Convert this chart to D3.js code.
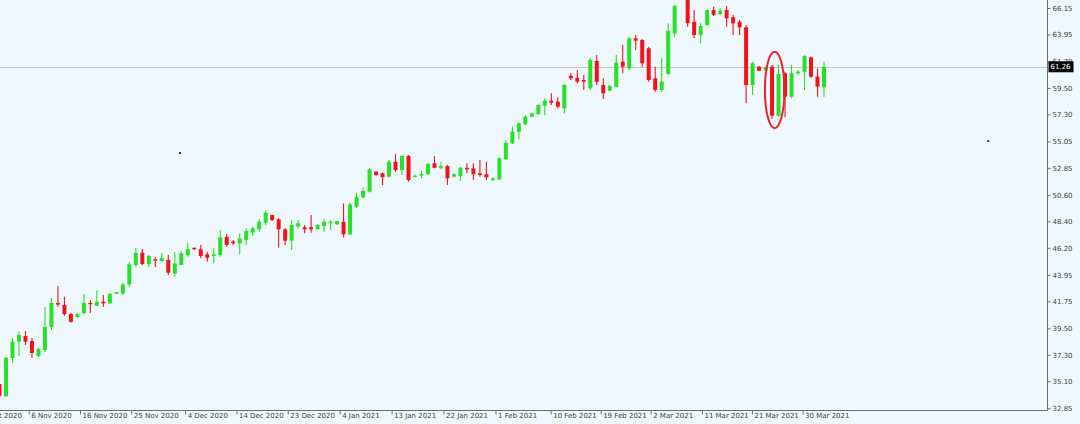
<!DOCTYPE html>
<html><head><meta charset="utf-8">
<script src="https://cdn.jsdelivr.net/npm/d3@7"></script>
<style>html,body{margin:0;padding:0;background:#f0f8ff;}svg{display:block;}</style>
</head><body>
<svg id="chart" width="1080" height="424"></svg>
<script>
// ---- data ----
const opens = [34.87,33.87,37.03,38.39,38.86,38.45,37.20,37.70,39.61,41.61,41.44,40.69,40.44,40.78,41.61,41.38,41.72,41.58,42.40,42.40,
43.15,44.77,45.79,44.85,45.24,45.10,45.19,44.06,44.77,45.60,46.21,46.08,45.66,45.52,45.60,47.12,46.71,46.57,46.85,47.46,
47.74,48.29,48.93,48.57,47.74,46.79,47.96,47.91,47.91,47.74,48.02,48.24,48.16,48.37,47.32,49.62,50.40,50.87,52.53,52.40,
52.12,53.36,52.67,53.84,52.15,52.20,52.32,53.23,52.86,53.01,52.12,52.17,52.86,52.81,52.40,52.32,51.84,51.90,53.57,54.89,
55.86,56.47,57.11,57.33,58.02,58.44,58.36,57.81,60.52,60.35,60.16,59.47,61.74,59.74,59.27,59.60,61.68,61.13,63.63,63.49,
62.80,60.30,59.33,60.66,64.04,67.10,67.07,65.01,63.90,64.74,65.98,65.65,65.98,65.38,65.01,64.54,59.74,61.27,60.94,61.27,
57.19,60.72,58.77,60.72,60.85,62.05,60.44,59.55];
const highs = [35.04,37.12,38.70,39.22,39.28,38.70,37.89,41.28,42.03,43.02,42.13,40.79,40.78,42.36,41.86,42.69,42.28,42.44,42.52,43.27,
45.04,46.21,46.10,45.60,45.44,45.77,45.60,45.85,45.93,46.63,46.21,46.43,45.88,46.16,47.68,47.35,46.85,47.41,47.82,47.96,
48.57,49.29,48.93,48.66,47.82,48.51,48.51,48.10,48.93,48.18,48.57,48.51,48.43,49.89,49.93,50.78,51.20,52.81,52.59,52.45,
53.51,53.98,53.92,53.92,52.32,52.59,53.26,53.84,53.36,53.09,52.40,52.95,53.23,53.23,53.51,53.36,52.05,53.71,55.17,56.28,
56.61,57.25,57.44,58.14,58.64,59.05,58.72,59.80,60.72,60.99,60.58,61.99,62.24,60.30,59.74,62.24,63.07,63.76,63.90,63.55,
62.93,61.27,61.97,64.88,66.40,67.98,67.20,65.98,64.88,66.04,66.26,66.12,66.32,65.57,65.15,64.74,61.68,61.33,61.27,61.41,
61.41,60.85,61.41,60.99,62.24,62.10,61.13,61.68];
const lows = [33.71,33.79,36.62,37.20,38.12,37.03,37.12,37.53,39.36,41.30,40.55,39.97,40.36,40.69,40.78,41.36,41.30,41.53,42.36,42.28,
42.97,44.63,44.77,44.60,44.60,45.02,43.94,43.81,44.77,45.46,46.02,45.33,45.04,44.91,45.46,46.29,46.43,45.68,46.43,47.18,
47.54,48.10,48.43,46.21,46.43,46.02,47.82,47.41,47.46,47.68,47.54,47.68,48.10,47.06,47.27,49.49,50.32,50.80,52.20,51.43,
52.07,52.53,52.26,51.70,52.07,51.98,52.26,52.81,52.73,51.43,52.07,51.76,52.40,51.84,52.12,51.84,51.76,51.84,53.51,54.84,
55.23,56.42,57.06,57.25,57.25,58.08,57.81,57.39,60.16,59.89,59.33,59.33,59.74,58.58,59.24,59.55,60.72,60.99,62.66,61.27,
60.02,59.19,59.19,60.58,63.76,66.90,64.59,63.63,63.21,64.65,65.49,65.57,64.59,63.90,63.90,58.22,58.91,60.91,60.90,56.92,
57.06,57.06,58.64,60.58,59.33,60.33,58.77,58.77];
const closes = [33.87,37.03,38.39,38.95,38.39,37.45,37.78,39.61,41.61,41.48,40.69,40.05,40.69,41.61,41.53,41.72,41.58,42.36,42.52,43.15,
44.83,45.79,44.85,45.52,45.13,45.35,44.13,44.91,45.74,46.08,46.08,45.52,45.38,45.66,47.07,46.43,46.57,46.99,47.60,47.82,
48.37,49.12,48.51,47.74,46.79,48.10,48.24,47.74,47.74,48.10,48.37,48.37,48.43,47.32,49.80,50.45,50.93,52.73,52.26,52.07,
53.36,52.67,53.84,51.84,52.20,52.32,53.17,52.86,53.01,51.98,52.32,52.86,52.73,52.32,52.26,52.07,51.98,53.65,54.94,55.86,
56.56,57.11,57.39,58.08,58.44,58.27,57.94,59.75,60.30,60.02,60.02,61.82,60.00,59.05,59.66,61.60,61.27,63.63,63.43,61.55,
60.16,59.33,60.02,64.26,66.32,67.30,64.88,63.90,64.65,65.98,65.57,65.93,65.29,64.88,64.54,59.74,61.55,60.93,61.19,57.19,
60.66,58.77,60.72,60.85,62.16,60.44,59.60,61.26];

const dateLabels = ["28 Oct 2020","6 Nov 2020","16 Nov 2020","25 Nov 2020","4 Dec 2020","14 Dec 2020","23 Dec 2020","4 Jan 2021",
"13 Jan 2021","22 Jan 2021","1 Feb 2021","10 Feb 2021","19 Feb 2021","2 Mar 2021","11 Mar 2021","21 Mar 2021","30 Mar 2021"];
const dateTickIndex = [-3.6,4.5,12.4,20.3,28.6,36.5,44.4,52.4,60.4,68.4,76.4,84.9,92.6,100.3,108.2,115.9,123.7];
const priceTicks = [66.15,63.95,61.70,59.50,57.30,55.05,52.85,50.60,48.40,46.20,43.95,41.75,39.50,37.30,35.10,32.85];
const currentPrice = 61.26;
const dots = [{i:27.8, v:54.09},{i:152.3, v:55.08}];
const highlight = {i0:117.9, i1:120.9, hi:62.52, lo:56.14};

// ---- drawing ----
const W = 1080, H = 424;
const plotRight = 1047.5, plotBottom = 410.5;
const svg = d3.select("#chart");
const candles = opens.map((o,i)=>({i, o, h:highs[i], l:lows[i], c:closes[i]}));

const x = d3.scaleLinear().domain([0, 127]).range([-0.5, 824]);
const y = d3.scaleLinear().domain([32.85, 66.15]).range([408.3, 8]);

svg.append("rect").attr("width",W).attr("height",H).attr("fill","#f0f8ff");

svg.append("defs").append("clipPath").attr("id","plot")
  .append("rect").attr("x",0).attr("y",0).attr("width",plotRight).attr("height",plotBottom);

const plot = svg.append("g").attr("clip-path","url(#plot)");

// current price line
plot.append("line")
  .attr("x1",0).attr("x2",plotRight)
  .attr("y1",Math.round(y(currentPrice))+0.5).attr("y2",Math.round(y(currentPrice))+0.5)
  .attr("stroke","#c4c8cc").attr("stroke-width",1);

const up = "#27e027", down = "#f0141a";
const cg = plot.selectAll("g.candle").data(candles).join("g").attr("class","candle");
cg.append("line")
  .attr("x1",d=>x(d.i)).attr("x2",d=>x(d.i))
  .attr("y1",d=>y(d.h)).attr("y2",d=>y(d.l))
  .attr("stroke",d=>d.c>=d.o?up:down).attr("stroke-width",1.1);
cg.append("rect")
  .attr("x",d=>x(d.i)-2).attr("width",4)
  .attr("y",d=>y(Math.max(d.o,d.c)))
  .attr("height",d=>Math.max(1.2, Math.abs(y(d.o)-y(d.c))))
  .attr("fill",d=>d.c>=d.o?up:down);

// highlight ellipse
plot.append("ellipse")
  .attr("cx",(x(highlight.i0)+x(highlight.i1))/2)
  .attr("cy",(y(highlight.hi)+y(highlight.lo))/2)
  .attr("rx",(x(highlight.i1)-x(highlight.i0))/2)
  .attr("ry",(y(highlight.lo)-y(highlight.hi))/2)
  .attr("fill","none").attr("stroke","#e8232a").attr("stroke-width",2);

// stray dots
plot.selectAll("rect.dot").data(dots).join("rect").attr("class","dot")
  .attr("x",d=>x(d.i)-1).attr("y",d=>y(d.v)-1).attr("width",2).attr("height",2).attr("fill","#333");

// axes frame
const axisColor = "#6e6e6e";
svg.append("line").attr("x1",plotRight).attr("x2",plotRight).attr("y1",0).attr("y2",plotBottom)
  .attr("stroke",axisColor);
svg.append("line").attr("x1",0).attr("x2",plotRight).attr("y1",plotBottom).attr("y2",plotBottom)
  .attr("stroke",axisColor);

const font = "DejaVu Sans, Verdana, sans-serif";
// right axis
const yAxis = d3.axisRight(y).tickValues(priceTicks).tickFormat(d3.format(".2f")).tickSize(3).tickPadding(2);
const ya = svg.append("g").attr("transform",`translate(${plotRight},0)`).call(yAxis);
ya.select(".domain").remove();
ya.selectAll("line").attr("stroke",axisColor);
ya.selectAll("text").attr("font-family",font).attr("font-size","7px").attr("fill","#404040");

// bottom axis
const xAxis = d3.axisBottom(x).tickValues(dateTickIndex).tickFormat((d,k)=>dateLabels[k]).tickSize(4).tickPadding(2);
const xa = svg.append("g").attr("transform",`translate(0,${plotBottom})`).call(xAxis);
xa.select(".domain").remove();
xa.selectAll("line").attr("stroke",axisColor);
xa.selectAll("text").attr("font-family",font).attr("font-size","7px").attr("fill","#404040")
  .attr("text-anchor","start").attr("dx","2px").attr("dy","0.25em");

// current price label
const cy = y(currentPrice);
svg.append("rect").attr("x",plotRight+1).attr("y",cy-5.5).attr("width",25).attr("height",11).attr("fill","#000");
svg.append("text").attr("x",plotRight+3).attr("y",cy).attr("dy","0.35em")
  .attr("font-family",font).attr("font-size","7px").attr("fill","#fff").text(currentPrice.toFixed(2));
</script>
</body></html>
